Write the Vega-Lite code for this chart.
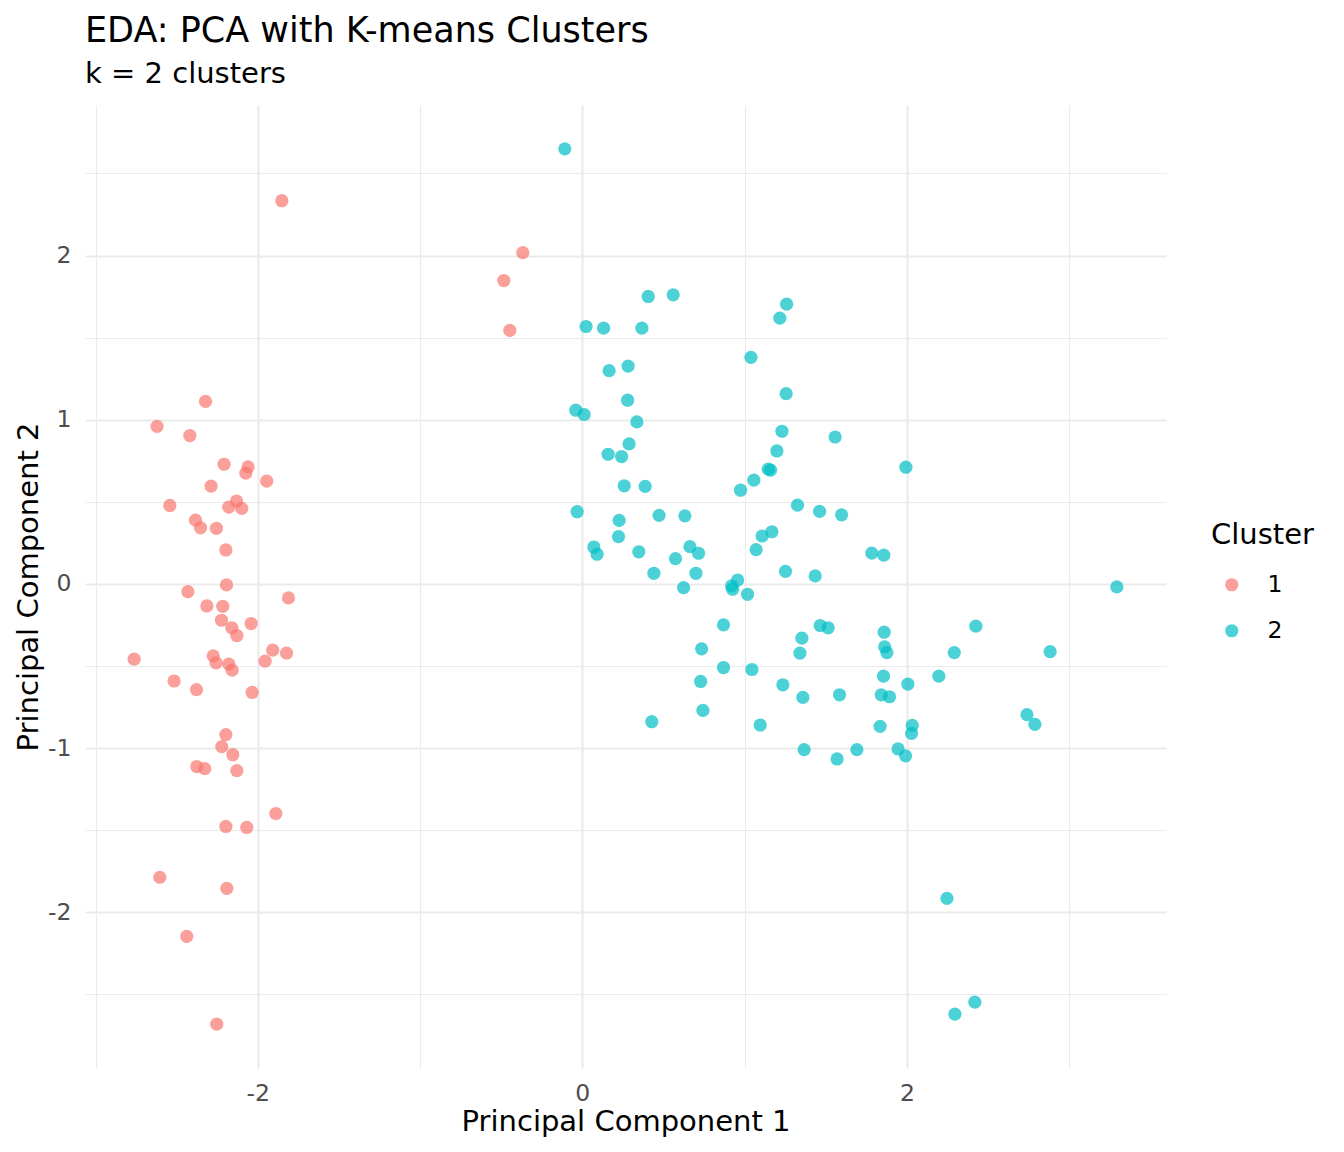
{
  "$schema": "https://vega.github.io/schema/vega-lite/v6.json",
  "autosize": {"type": "none"},
  "padding": {"left": 85, "top": 105, "right": 178, "bottom": 84},
  "width": 1081,
  "height": 963,
  "background": "white",
  "title": {
    "text": "EDA: PCA with K-means Clusters",
    "subtitle": "k = 2 clusters",
    "anchor": "start",
    "frame": "group",
    "offset": 16,
    "subtitlePadding": 11
  },
  "data": {
    "values": [
      {"pc1": -1.852, "pc2": 2.334, "cluster": "1"},
      {"pc1": -0.367, "pc2": 2.018, "cluster": "1"},
      {"pc1": -0.484, "pc2": 1.848, "cluster": "1"},
      {"pc1": -0.447, "pc2": 1.544, "cluster": "1"},
      {"pc1": -2.322, "pc2": 1.112, "cluster": "1"},
      {"pc1": -2.621, "pc2": 0.960, "cluster": "1"},
      {"pc1": -2.419, "pc2": 0.904, "cluster": "1"},
      {"pc1": -2.208, "pc2": 0.729, "cluster": "1"},
      {"pc1": -2.060, "pc2": 0.713, "cluster": "1"},
      {"pc1": -2.074, "pc2": 0.675, "cluster": "1"},
      {"pc1": -1.945, "pc2": 0.626, "cluster": "1"},
      {"pc1": -2.288, "pc2": 0.596, "cluster": "1"},
      {"pc1": -2.542, "pc2": 0.478, "cluster": "1"},
      {"pc1": -2.131, "pc2": 0.505, "cluster": "1"},
      {"pc1": -2.179, "pc2": 0.468, "cluster": "1"},
      {"pc1": -2.099, "pc2": 0.460, "cluster": "1"},
      {"pc1": -2.384, "pc2": 0.389, "cluster": "1"},
      {"pc1": -2.353, "pc2": 0.342, "cluster": "1"},
      {"pc1": -2.255, "pc2": 0.339, "cluster": "1"},
      {"pc1": -2.197, "pc2": 0.207, "cluster": "1"},
      {"pc1": -2.193, "pc2": -0.006, "cluster": "1"},
      {"pc1": -2.431, "pc2": -0.047, "cluster": "1"},
      {"pc1": -1.811, "pc2": -0.085, "cluster": "1"},
      {"pc1": -2.314, "pc2": -0.134, "cluster": "1"},
      {"pc1": -2.216, "pc2": -0.136, "cluster": "1"},
      {"pc1": -2.224, "pc2": -0.221, "cluster": "1"},
      {"pc1": -2.041, "pc2": -0.241, "cluster": "1"},
      {"pc1": -2.160, "pc2": -0.267, "cluster": "1"},
      {"pc1": -2.129, "pc2": -0.314, "cluster": "1"},
      {"pc1": -1.908, "pc2": -0.403, "cluster": "1"},
      {"pc1": -1.823, "pc2": -0.421, "cluster": "1"},
      {"pc1": -2.762, "pc2": -0.458, "cluster": "1"},
      {"pc1": -2.275, "pc2": -0.438, "cluster": "1"},
      {"pc1": -2.257, "pc2": -0.480, "cluster": "1"},
      {"pc1": -2.179, "pc2": -0.488, "cluster": "1"},
      {"pc1": -2.158, "pc2": -0.525, "cluster": "1"},
      {"pc1": -1.955, "pc2": -0.470, "cluster": "1"},
      {"pc1": -2.516, "pc2": -0.591, "cluster": "1"},
      {"pc1": -2.378, "pc2": -0.644, "cluster": "1"},
      {"pc1": -2.035, "pc2": -0.661, "cluster": "1"},
      {"pc1": -2.197, "pc2": -0.918, "cluster": "1"},
      {"pc1": -2.222, "pc2": -0.991, "cluster": "1"},
      {"pc1": -2.154, "pc2": -1.040, "cluster": "1"},
      {"pc1": -2.376, "pc2": -1.112, "cluster": "1"},
      {"pc1": -2.327, "pc2": -1.125, "cluster": "1"},
      {"pc1": -2.129, "pc2": -1.137, "cluster": "1"},
      {"pc1": -1.889, "pc2": -1.398, "cluster": "1"},
      {"pc1": -2.197, "pc2": -1.477, "cluster": "1"},
      {"pc1": -2.068, "pc2": -1.483, "cluster": "1"},
      {"pc1": -2.604, "pc2": -1.787, "cluster": "1"},
      {"pc1": -2.191, "pc2": -1.854, "cluster": "1"},
      {"pc1": -2.438, "pc2": -2.146, "cluster": "1"},
      {"pc1": -2.253, "pc2": -2.681, "cluster": "1"},
      {"pc1": -0.108, "pc2": 2.650, "cluster": "2"},
      {"pc1": 0.406, "pc2": 1.751, "cluster": "2"},
      {"pc1": 0.560, "pc2": 1.761, "cluster": "2"},
      {"pc1": 1.259, "pc2": 1.704, "cluster": "2"},
      {"pc1": 1.217, "pc2": 1.619, "cluster": "2"},
      {"pc1": 0.023, "pc2": 1.568, "cluster": "2"},
      {"pc1": 0.131, "pc2": 1.558, "cluster": "2"},
      {"pc1": 0.367, "pc2": 1.558, "cluster": "2"},
      {"pc1": 1.039, "pc2": 1.380, "cluster": "2"},
      {"pc1": 0.165, "pc2": 1.299, "cluster": "2"},
      {"pc1": 0.282, "pc2": 1.327, "cluster": "2"},
      {"pc1": 1.256, "pc2": 1.159, "cluster": "2"},
      {"pc1": 0.279, "pc2": 1.119, "cluster": "2"},
      {"pc1": -0.040, "pc2": 1.058, "cluster": "2"},
      {"pc1": 0.011, "pc2": 1.032, "cluster": "2"},
      {"pc1": 0.336, "pc2": 0.987, "cluster": "2"},
      {"pc1": 1.230, "pc2": 0.930, "cluster": "2"},
      {"pc1": 1.558, "pc2": 0.895, "cluster": "2"},
      {"pc1": 0.288, "pc2": 0.853, "cluster": "2"},
      {"pc1": 0.159, "pc2": 0.790, "cluster": "2"},
      {"pc1": 0.242, "pc2": 0.776, "cluster": "2"},
      {"pc1": 1.199, "pc2": 0.810, "cluster": "2"},
      {"pc1": 1.146, "pc2": 0.699, "cluster": "2"},
      {"pc1": 1.160, "pc2": 0.693, "cluster": "2"},
      {"pc1": 1.994, "pc2": 0.711, "cluster": "2"},
      {"pc1": 1.057, "pc2": 0.632, "cluster": "2"},
      {"pc1": 0.975, "pc2": 0.571, "cluster": "2"},
      {"pc1": 0.258, "pc2": 0.598, "cluster": "2"},
      {"pc1": 0.387, "pc2": 0.594, "cluster": "2"},
      {"pc1": 1.326, "pc2": 0.480, "cluster": "2"},
      {"pc1": 1.462, "pc2": 0.442, "cluster": "2"},
      {"pc1": 1.598, "pc2": 0.421, "cluster": "2"},
      {"pc1": -0.032, "pc2": 0.440, "cluster": "2"},
      {"pc1": 0.227, "pc2": 0.387, "cluster": "2"},
      {"pc1": 0.473, "pc2": 0.418, "cluster": "2"},
      {"pc1": 0.632, "pc2": 0.415, "cluster": "2"},
      {"pc1": 0.223, "pc2": 0.288, "cluster": "2"},
      {"pc1": 0.071, "pc2": 0.225, "cluster": "2"},
      {"pc1": 0.091, "pc2": 0.181, "cluster": "2"},
      {"pc1": 0.348, "pc2": 0.196, "cluster": "2"},
      {"pc1": 0.663, "pc2": 0.227, "cluster": "2"},
      {"pc1": 0.716, "pc2": 0.187, "cluster": "2"},
      {"pc1": 0.574, "pc2": 0.154, "cluster": "2"},
      {"pc1": 1.168, "pc2": 0.318, "cluster": "2"},
      {"pc1": 1.108, "pc2": 0.292, "cluster": "2"},
      {"pc1": 1.071, "pc2": 0.209, "cluster": "2"},
      {"pc1": 1.784, "pc2": 0.188, "cluster": "2"},
      {"pc1": 1.858, "pc2": 0.176, "cluster": "2"},
      {"pc1": 0.441, "pc2": 0.065, "cluster": "2"},
      {"pc1": 0.700, "pc2": 0.065, "cluster": "2"},
      {"pc1": 1.252, "pc2": 0.077, "cluster": "2"},
      {"pc1": 1.435, "pc2": 0.049, "cluster": "2"},
      {"pc1": 0.624, "pc2": -0.022, "cluster": "2"},
      {"pc1": 0.957, "pc2": 0.024, "cluster": "2"},
      {"pc1": 0.920, "pc2": -0.012, "cluster": "2"},
      {"pc1": 0.926, "pc2": -0.032, "cluster": "2"},
      {"pc1": 1.018, "pc2": -0.063, "cluster": "2"},
      {"pc1": 3.294, "pc2": -0.018, "cluster": "2"},
      {"pc1": 0.870, "pc2": -0.249, "cluster": "2"},
      {"pc1": 1.466, "pc2": -0.253, "cluster": "2"},
      {"pc1": 1.515, "pc2": -0.267, "cluster": "2"},
      {"pc1": 2.425, "pc2": -0.257, "cluster": "2"},
      {"pc1": 1.860, "pc2": -0.294, "cluster": "2"},
      {"pc1": 1.353, "pc2": -0.330, "cluster": "2"},
      {"pc1": 1.341, "pc2": -0.421, "cluster": "2"},
      {"pc1": 1.863, "pc2": -0.383, "cluster": "2"},
      {"pc1": 1.877, "pc2": -0.418, "cluster": "2"},
      {"pc1": 2.292, "pc2": -0.418, "cluster": "2"},
      {"pc1": 2.883, "pc2": -0.412, "cluster": "2"},
      {"pc1": 0.735, "pc2": -0.395, "cluster": "2"},
      {"pc1": 0.870, "pc2": -0.509, "cluster": "2"},
      {"pc1": 1.045, "pc2": -0.521, "cluster": "2"},
      {"pc1": 2.197, "pc2": -0.561, "cluster": "2"},
      {"pc1": 1.856, "pc2": -0.561, "cluster": "2"},
      {"pc1": 1.236, "pc2": -0.614, "cluster": "2"},
      {"pc1": 0.729, "pc2": -0.594, "cluster": "2"},
      {"pc1": 1.585, "pc2": -0.675, "cluster": "2"},
      {"pc1": 1.842, "pc2": -0.675, "cluster": "2"},
      {"pc1": 1.893, "pc2": -0.687, "cluster": "2"},
      {"pc1": 1.359, "pc2": -0.691, "cluster": "2"},
      {"pc1": 2.006, "pc2": -0.610, "cluster": "2"},
      {"pc1": 0.743, "pc2": -0.770, "cluster": "2"},
      {"pc1": 2.740, "pc2": -0.796, "cluster": "2"},
      {"pc1": 2.789, "pc2": -0.855, "cluster": "2"},
      {"pc1": 0.428, "pc2": -0.839, "cluster": "2"},
      {"pc1": 1.096, "pc2": -0.859, "cluster": "2"},
      {"pc1": 1.835, "pc2": -0.867, "cluster": "2"},
      {"pc1": 2.033, "pc2": -0.861, "cluster": "2"},
      {"pc1": 2.029, "pc2": -0.910, "cluster": "2"},
      {"pc1": 1.367, "pc2": -1.009, "cluster": "2"},
      {"pc1": 1.692, "pc2": -1.009, "cluster": "2"},
      {"pc1": 1.570, "pc2": -1.066, "cluster": "2"},
      {"pc1": 1.946, "pc2": -1.005, "cluster": "2"},
      {"pc1": 1.992, "pc2": -1.047, "cluster": "2"},
      {"pc1": 2.247, "pc2": -1.915, "cluster": "2"},
      {"pc1": 2.419, "pc2": -2.547, "cluster": "2"},
      {"pc1": 2.296, "pc2": -2.620, "cluster": "2"}
    ]
  },
  "mark": {"type": "point", "filled": true, "opacity": 0.7, "size": 175, "shape": "circle"},
  "encoding": {
    "x": {
      "field": "pc1",
      "type": "quantitative",
      "title": "Principal Component 1",
      "scale": {"domain": [-3.065, 3.597], "nice": false, "zero": false},
      "axis": {
        "values": [-3, -2, -1, 0, 1, 2, 3],
        "labelExpr": "datum.value % 2 === 0 ? '' + datum.value : ''",
        "gridWidth": {"condition": {"test": "datum.value % 2 !== 0", "value": 1.1}, "value": 2.2},
        "labelPadding": 13,
        "titlePadding": 3
      }
    },
    "y": {
      "field": "pc2",
      "type": "quantitative",
      "title": "Principal Component 2",
      "scale": {"domain": [-2.948, 2.917], "nice": false, "zero": false},
      "axis": {
        "values": [-2.5, -2, -1.5, -1, -0.5, 0, 0.5, 1, 1.5, 2, 2.5],
        "labelExpr": "datum.value % 1 === 0 ? '' + datum.value : ''",
        "gridWidth": {"condition": {"test": "datum.value % 1 !== 0", "value": 1.1}, "value": 2.2},
        "labelPadding": 14,
        "titlePadding": 4
      }
    },
    "color": {
      "field": "cluster",
      "type": "nominal",
      "title": "Cluster",
      "scale": {"domain": ["1", "2"], "range": ["#F8766D", "#00BFC4"]},
      "legend": {
        "orient": "none",
        "legendX": 1126,
        "legendY": 416,
        "symbolOffset": 9,
        "labelOffset": 24,
        "rowPadding": 21,
        "titlePadding": 23
      }
    }
  },
  "config": {
    "font": "DejaVu Sans",
    "view": {"stroke": null},
    "title": {
      "font": "DejaVu Sans",
      "fontSize": 35,
      "fontWeight": "normal",
      "color": "black",
      "subtitleFont": "DejaVu Sans",
      "subtitleFontSize": 29,
      "subtitleColor": "black"
    },
    "axis": {
      "domain": false,
      "ticks": false,
      "tickSize": 0,
      "grid": true,
      "gridColor": "#EBEBEB",
      "labelFont": "DejaVu Sans",
      "labelFontSize": 23.5,
      "labelColor": "#4D4D4D",
      "labelOverlap": false,
      "labelBound": false,
      "labelFlush": false,
      "titleFont": "DejaVu Sans",
      "titleFontSize": 29,
      "titleFontWeight": "normal",
      "titleColor": "black"
    },
    "legend": {
      "titleFont": "DejaVu Sans",
      "titleFontSize": 29,
      "titleFontWeight": "normal",
      "titleColor": "black",
      "labelFont": "DejaVu Sans",
      "labelFontSize": 23.5,
      "labelColor": "black",
      "symbolSize": 175,
      "symbolOpacity": 0.7,
      "symbolStrokeWidth": 0
    }
  }
}
